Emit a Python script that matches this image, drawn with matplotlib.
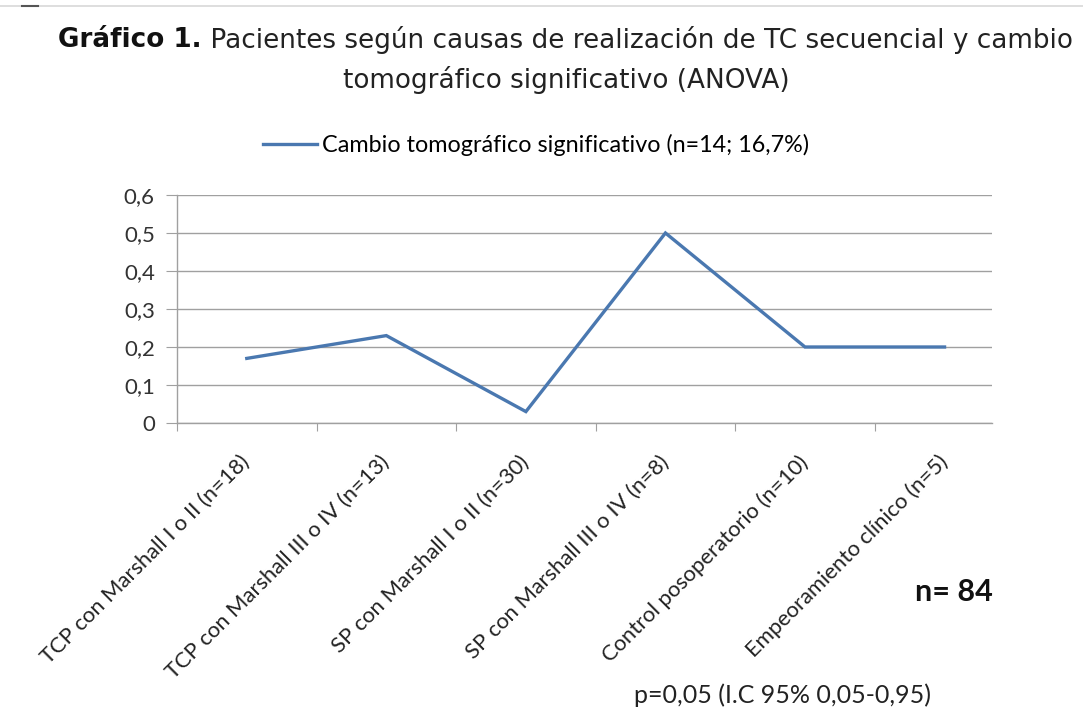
import matplotlib
matplotlib.use("Agg")
import matplotlib.pyplot as plt
from matplotlib.lines import Line2D

categories = [
    "TCP con Marshall I o II (n=18)",
    "TCP con Marshall III o IV (n=13)",
    "SP con Marshall I o II (n=30)",
    "SP con Marshall III o IV (n=8)",
    "Control posoperatorio (n=10)",
    "Empeoramiento clínico (n=5)",
]
values = [0.17, 0.23, 0.03, 0.50, 0.20, 0.20]
yticks = [0, 0.1, 0.2, 0.3, 0.4, 0.5, 0.6]
ytick_labels = ["0", "0,1", "0,2", "0,3", "0,4", "0,5", "0,6"]
series_label = "Cambio tomográfico significativo (n=14; 16,7%)"
title_bold = "Gráfico 1."
title_rest = " Pacientes según causas de realización de TC secuencial y cambio"
title_line2 = "tomográfico significativo (ANOVA)"
n_text = "n= 84"
p_text = "p=0,05 (I.C 95% 0,05-0,95)"

W, H = 1083, 712
fig = plt.figure(figsize=(W / 100, H / 100), dpi=100)
fig.patch.set_facecolor("white")

def fx(px):
    return px / W

def fy(py):
    return 1 - py / H

ax = fig.add_axes([fx(177), fy(423), fx(992) - fx(177), fy(195) - fy(423)])
xs = list(range(len(categories)))
line, = ax.plot(xs, values, color="#4a78b0", lw=2.4, solid_joinstyle="miter",
                label=series_label, zorder=3)
ax.set_xlim(-0.5, 5.34)
ax.set_ylim(0, 0.6)
ax.set_yticks(yticks)
ax.set_yticklabels(ytick_labels, fontfamily="Lato", fontsize=16, color="#333333")
ax.yaxis.grid(True, color="#a0a0a0", lw=1.0)
ax.set_axisbelow(True)
ax.set_xticks([i - 0.5 for i in range(len(categories))])
ax.set_xticklabels([])
ax.set_xticks(xs, minor=True)
ax.set_xticklabels(categories, minor=True, rotation=45, ha="right",
                   rotation_mode="anchor", va="center",
                   fontfamily="Lato", fontsize=15.8, color="#222222")
ax.tick_params(axis="x", which="minor", length=0, pad=26)
ax.tick_params(axis="x", which="major", length=6, color="#a0a0a0", direction="out")
ax.tick_params(axis="y", length=8, color="#a0a0a0", pad=8)
for s in ["top", "right"]:
    ax.spines[s].set_visible(False)
for s in ["left", "bottom"]:
    ax.spines[s].set_color("#a0a0a0")
    ax.spines[s].set_linewidth(1.0)

leg = ax.legend(handles=[line], loc="center", bbox_to_anchor=(fx(536), fy(145)),
                bbox_transform=fig.transFigure, frameon=False,
                prop={"family": "Lato", "size": 16.8}, handlelength=2.3,
                handletextpad=0.2)

# title
fig.canvas.draw()
r = fig.canvas.get_renderer()
tb = fig.text(fx(58), fy(40), title_bold, fontfamily="DejaVu Sans", fontweight="bold",
              fontsize=18.9, va="center", ha="left", color="#111111")
bb = tb.get_window_extent(r)
fig.text(bb.x1 / W, fy(40), title_rest, fontfamily="DejaVu Sans",
         fontsize=18.9, va="center", ha="left", color="#222222")
fig.text(fx(566), fy(80), title_line2, fontfamily="DejaVu Sans",
         fontsize=18.9, va="center", ha="center", color="#222222")

fig.text(fx(954), fy(592), n_text, fontfamily="Lato", fontweight="bold",
         fontsize=22, va="center", ha="center", color="#111111")
fig.text(fx(782), fy(695), p_text, fontfamily="Lato",
         fontsize=18, va="center", ha="center", color="#222222")

fig.add_artist(Line2D([0, 1], [fy(6), fy(6)], color="#d8d8d8", lw=1.2))
fig.add_artist(Line2D([fx(22), fx(38)], [fy(6), fy(6)], color="#555555", lw=1.5))

fig.savefig("out.png", dpi=100)
